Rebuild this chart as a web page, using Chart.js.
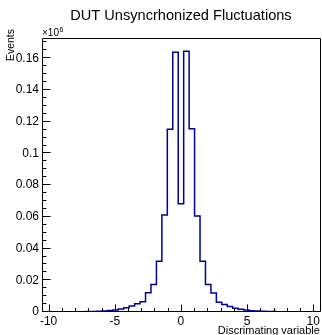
<!DOCTYPE html>
<html><head><meta charset="utf-8">
<script src="https://cdn.jsdelivr.net/npm/chart.js@4.4.1/dist/chart.umd.min.js"></script>
<style>html,body{margin:0;padding:0;background:#fff;overflow:hidden}canvas{display:block}</style>
</head><body>
<canvas id="c" width="322" height="335"></canvas>
<script>
// ---- data ----
const chartTitle = 'DUT Unsyncrhonized Fluctuations';
const xAxisTitle = 'Discrimating variable';
const yAxisTitle = 'Events';
const yExponent = '6';            // axis values are in units of 10^6
const binRange = [-10.5, 10.5];   // histogram x range
const binCount = 51;
// bin contents (×10^6 events), left to right
const binContents = [
  0.00005, 0.00005, 0.00006, 0.00008, 0.0001, 0.00012, 0.00015, 0.0002, 0.00025, 0.00032,
  0.00045, 0.0006, 0.0009, 0.0013, 0.0019, 0.0027, 0.0038, 0.0052, 0.0064, 0.0122,
  0.0173, 0.0320, 0.0611, 0.1152, 0.1638, 0.0682, 0.1644, 0.1156, 0.0605, 0.0320,
  0.0173, 0.0120, 0.0061, 0.0048, 0.0034, 0.0023, 0.0017, 0.0012, 0.0008, 0.0006,
  0.00045, 0.00035, 0.00025, 0.0002, 0.00015, 0.00012, 0.0001, 0.00008, 0.00006, 0.00005,
  0.00005
];
const yRange = [0, 0.1728];
const xMajorStep = 5, xMinorDiv = 5;
const yMajorStep = 0.02, yMinorDiv = 4;

// ---- build step outline points from bin edges ----
const binWidth = (binRange[1] - binRange[0]) / binCount;
const outline = binContents.map((c, k) => ({ x: binRange[0] + k * binWidth, y: c }));
outline.push({ x: binRange[1], y: binContents[binContents.length - 1] });

const FONT = '"Liberation Sans", Arial, Helvetica, sans-serif';

const rootFrame = {
  id: 'rootFrame',
  afterDatasetsDraw(chart) {
    const { ctx, chartArea: { left, top, right, bottom }, scales: { x, y } } = chart;
    ctx.save();
    ctx.strokeStyle = '#000';
    ctx.lineWidth = 1;
    ctx.beginPath();
    const L = Math.round(left) + 0.5, R = Math.round(right) + 0.5;
    const T = Math.round(top) + 0.5, B = Math.round(bottom) - 0.5;
    ctx.moveTo(L, T); ctx.lineTo(R, T); ctx.lineTo(R, B); ctx.lineTo(L, B); ctx.closePath();
    // x ticks inside frame
    const xm = xMajorStep / xMinorDiv;
    for (let i = Math.ceil(x.min / xm); i * xm <= x.max + 1e-9; i++) {
      const v = i * xm;
      const px = Math.round(x.getPixelForValue(v)) + 0.5;
      const len = (i % xMinorDiv === 0) ? 7 : 3.5;
      ctx.moveTo(px, B); ctx.lineTo(px, B - len);
    }
    // y ticks inside frame
    const ym = yMajorStep / yMinorDiv;
    for (let i = Math.ceil(y.min / ym); i * ym <= y.max + 1e-9; i++) {
      const v = i * ym;
      const py = Math.round(y.getPixelForValue(v)) - 0.5;
      const len = (i % yMinorDiv === 0) ? 8 : 4;
      ctx.moveTo(L, py); ctx.lineTo(L + len, py);
    }
    ctx.stroke();
    ctx.fillStyle = '#000';
    // exponent label ×10^6
    ctx.textBaseline = 'alphabetic';
    ctx.textAlign = 'left';
    ctx.font = '10px ' + FONT;
    const base = '\u00d710';
    ctx.fillText(base, left, top - 2);
    const w = ctx.measureText(base).width;
    ctx.font = '7px ' + FONT;
    ctx.fillText(yExponent, left + w + 0.5, top - 6);
    // y axis title, rotated, right-aligned near the top of the axis
    ctx.save();
    ctx.translate(11.5, 29);
    ctx.rotate(-Math.PI / 2);
    ctx.font = '10.5px ' + FONT;
    ctx.textAlign = 'right';
    ctx.textBaseline = 'middle';
    ctx.fillText(yAxisTitle, 0, 0);
    ctx.restore();
    ctx.restore();
  }
};

new Chart(document.getElementById('c'), {
  type: 'line',
  data: {
    datasets: [{
      data: outline,
      stepped: 'before',
      borderColor: '#00009c',
      borderWidth: 1.5,
      pointRadius: 0,
      fill: false,
      tension: 0
    }]
  },
  options: {
    responsive: false,
    animation: false,
    events: [],
    layout: { padding: { left: 0, right: 1, top: 0, bottom: 0 } },
    plugins: {
      legend: { display: false },
      tooltip: { enabled: false },
      title: {
        display: true,
        fullSize: false,
        text: chartTitle,
        color: '#000',
        font: { family: FONT, size: 14.6, weight: 'normal', lineHeight: 1.2 },
        padding: { top: 7, bottom: 13.5 }
      }
    },
    scales: {
      x: {
        type: 'linear',
        min: binRange[0],
        max: binRange[1],
        grid: { display: false, drawTicks: false },
        border: { display: false },
        ticks: {
          stepSize: xMajorStep,
          includeBounds: false,
          autoSkip: false,
          maxRotation: 0,
          color: '#000',
          padding: 2,
          font: { family: FONT, size: 12 },
          callback: v => String(v)
        },
        title: {
          display: true,
          text: xAxisTitle,
          align: 'end',
          color: '#000',
          padding: { top: 0, bottom: 0 },
          font: { family: FONT, size: 11, lineHeight: 0.76 }
        },
        afterFit: s => { s.height = 23; }
      },
      y: {
        min: yRange[0],
        max: yRange[1],
        grid: { display: false, drawTicks: false },
        border: { display: false },
        ticks: {
          stepSize: yMajorStep,
          includeBounds: false,
          autoSkip: false,
          color: '#000',
          padding: 3,
          font: { family: FONT, size: 12 },
          callback: v => String(parseFloat(v.toFixed(4)))
        },
        title: { display: false },
        afterFit: s => { s.width = 42; }
      }
    }
  },
  plugins: [rootFrame]
});
</script>
</body></html>
